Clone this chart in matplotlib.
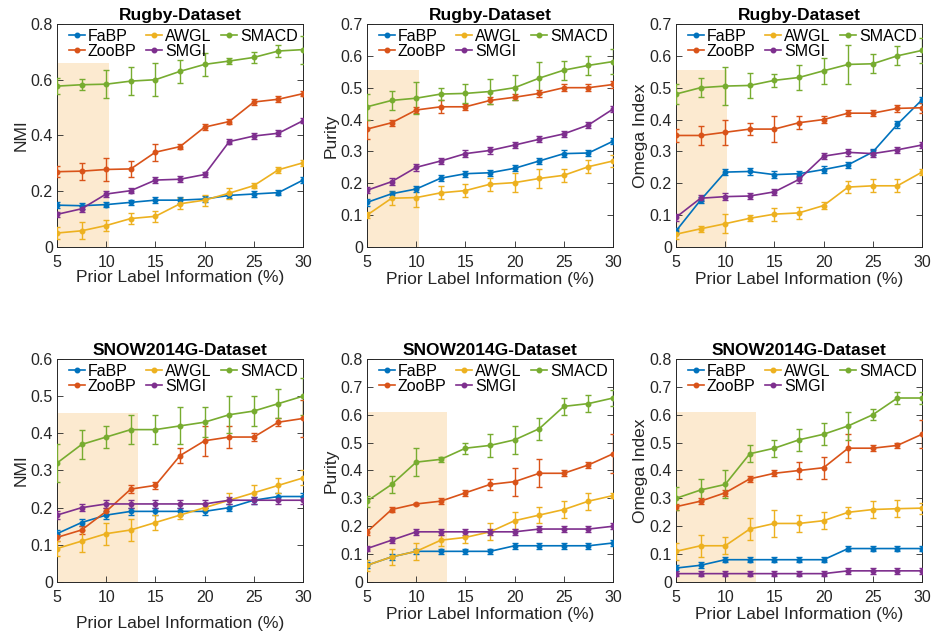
import numpy as np
import matplotlib
matplotlib.use("Agg")
import matplotlib.pyplot as plt

plt.rcParams["font.family"] = ["Liberation Sans", "DejaVu Sans"]

x = [5, 7.5, 10, 12.5, 15, 17.5, 20, 22.5, 25, 27.5, 30]
methods = ["FaBP", "ZooBP", "AWGL", "SMGI", "SMACD"]
colors = {"FaBP": "#0072BD", "ZooBP": "#D95319", "AWGL": "#EDB120",
          "SMGI": "#7E2F8E", "SMACD": "#77AC30"}

# Rugby - NMI
rugby_nmi = {
    "FaBP": [0.15, 0.148, 0.152, 0.16, 0.168, 0.168, 0.172, 0.185, 0.19, 0.195, 0.24],
    "ZooBP": [0.27, 0.272, 0.278, 0.28, 0.34, 0.36, 0.43, 0.45, 0.52, 0.53, 0.55],
    "AWGL": [0.05, 0.058, 0.077, 0.102, 0.11, 0.155, 0.168, 0.193, 0.22, 0.277, 0.302],
    "SMGI": [0.117, 0.137, 0.19, 0.202, 0.24, 0.243, 0.26, 0.378, 0.398, 0.408, 0.453],
    "SMACD": [0.577, 0.582, 0.584, 0.595, 0.6, 0.63, 0.655, 0.667, 0.68, 0.703, 0.708],
}
rugby_nmi_err = {
    "FaBP": [0.01] * 11,
    "ZooBP": [0.02, 0.03, 0.04, 0.03, 0.03, 0.01, 0.01, 0.01, 0.01, 0.01, 0.01],
    "AWGL": [0.02, 0.03, 0.02, 0.02, 0.02, 0.02, 0.02, 0.02, 0.01, 0.01, 0.01],
    "SMGI": [0.01] * 11,
    "SMACD": [0.03, 0.02, 0.05, 0.05, 0.06, 0.04, 0.04, 0.01, 0.02, 0.02, 0.05],
}

# Rugby - Purity
rugby_pur = {
    "FaBP": [0.14, 0.167, 0.182, 0.216, 0.23, 0.233, 0.247, 0.27, 0.293, 0.295, 0.332],
    "ZooBP": [0.37, 0.39, 0.43, 0.44, 0.44, 0.46, 0.47, 0.482, 0.5, 0.5, 0.51],
    "AWGL": [0.1, 0.153, 0.155, 0.17, 0.177, 0.197, 0.202, 0.215, 0.225, 0.252, 0.27],
    "SMGI": [0.178, 0.205, 0.25, 0.27, 0.293, 0.303, 0.32, 0.338, 0.355, 0.383, 0.433],
    "SMACD": [0.44, 0.46, 0.467, 0.48, 0.482, 0.488, 0.5, 0.53, 0.555, 0.57, 0.582],
}
rugby_pur_err = {
    "FaBP": [0.01] * 11,
    "ZooBP": [0.03, 0.01, 0.01, 0.02, 0.01, 0.01, 0.01, 0.01, 0.01, 0.01, 0.01],
    "AWGL": [0.01, 0.02, 0.03, 0.02, 0.02, 0.02, 0.03, 0.03, 0.02, 0.02, 0.02],
    "SMGI": [0.01] * 11,
    "SMACD": [0.04, 0.03, 0.05, 0.02, 0.03, 0.04, 0.04, 0.05, 0.03, 0.03, 0.04],
}

# Rugby - Omega Index
rugby_ome = {
    "FaBP": [0.05, 0.147, 0.235, 0.237, 0.227, 0.23, 0.243, 0.258, 0.298, 0.385, 0.462],
    "ZooBP": [0.35, 0.35, 0.36, 0.37, 0.37, 0.39, 0.4, 0.42, 0.42, 0.435, 0.437],
    "AWGL": [0.04, 0.057, 0.073, 0.09, 0.103, 0.107, 0.13, 0.188, 0.192, 0.192, 0.235],
    "SMGI": [0.093, 0.153, 0.158, 0.16, 0.173, 0.212, 0.285, 0.297, 0.293, 0.305, 0.32],
    "SMACD": [0.48, 0.5, 0.505, 0.507, 0.523, 0.532, 0.553, 0.573, 0.575, 0.6, 0.617],
}
rugby_ome_err = {
    "FaBP": [0.01] * 11,
    "ZooBP": [0.02, 0.03, 0.04, 0.02, 0.04, 0.02, 0.01, 0.01, 0.01, 0.01, 0.015],
    "AWGL": [0.015, 0.01, 0.03, 0.01, 0.02, 0.02, 0.01, 0.02, 0.02, 0.02, 0.01],
    "SMGI": [0.01] * 11,
    "SMACD": [0.03, 0.03, 0.06, 0.04, 0.02, 0.04, 0.04, 0.06, 0.03, 0.03, 0.04],
}

# SNOW2014G - NMI
snow_nmi = {
    "FaBP": [0.13, 0.16, 0.18, 0.19, 0.19, 0.19, 0.19, 0.2, 0.22, 0.23, 0.23],
    "ZooBP": [0.12, 0.14, 0.19, 0.25, 0.26, 0.34, 0.38, 0.39, 0.39, 0.43, 0.44],
    "AWGL": [0.09, 0.11, 0.13, 0.14, 0.16, 0.18, 0.2, 0.22, 0.24, 0.26, 0.28],
    "SMGI": [0.18, 0.2, 0.21, 0.21, 0.21, 0.21, 0.21, 0.22, 0.22, 0.22, 0.22],
    "SMACD": [0.32, 0.37, 0.39, 0.41, 0.41, 0.42, 0.43, 0.45, 0.46, 0.48, 0.5],
}
snow_nmi_err = {
    "FaBP": [0.01] * 11,
    "ZooBP": [0.01, 0.01, 0.01, 0.01, 0.01, 0.02, 0.04, 0.03, 0.01, 0.01, 0.05],
    "AWGL": [0.02, 0.03, 0.03, 0.03, 0.02, 0.01, 0.01, 0.02, 0.02, 0.02, 0.02],
    "SMGI": [0.01] * 11,
    "SMACD": [0.05, 0.04, 0.03, 0.04, 0.04, 0.05, 0.04, 0.05, 0.04, 0.04, 0.05],
}

# SNOW2014G - Purity
snow_pur = {
    "FaBP": [0.06, 0.09, 0.11, 0.11, 0.11, 0.11, 0.13, 0.13, 0.13, 0.13, 0.14],
    "ZooBP": [0.18, 0.26, 0.28, 0.29, 0.32, 0.35, 0.36, 0.39, 0.39, 0.42, 0.46],
    "AWGL": [0.06, 0.09, 0.11, 0.15, 0.16, 0.18, 0.22, 0.24, 0.26, 0.29, 0.31],
    "SMGI": [0.12, 0.15, 0.18, 0.18, 0.18, 0.18, 0.18, 0.19, 0.19, 0.19, 0.2],
    "SMACD": [0.29, 0.35, 0.43, 0.44, 0.48, 0.49, 0.51, 0.55, 0.63, 0.64, 0.66],
}
snow_pur_err = {
    "FaBP": [0.01] * 11,
    "ZooBP": [0.01, 0.01, 0.005, 0.01, 0.01, 0.02, 0.05, 0.05, 0.01, 0.01, 0.07],
    "AWGL": [0.02, 0.03, 0.03, 0.02, 0.02, 0.03, 0.03, 0.03, 0.03, 0.03, 0.01],
    "SMGI": [0.01] * 11,
    "SMACD": [0.02, 0.03, 0.05, 0.01, 0.02, 0.04, 0.05, 0.04, 0.03, 0.03, 0.03],
}

# SNOW2014G - Omega Index
snow_ome = {
    "FaBP": [0.05, 0.06, 0.08, 0.08, 0.08, 0.08, 0.08, 0.12, 0.12, 0.12, 0.12],
    "ZooBP": [0.27, 0.29, 0.32, 0.37, 0.39, 0.4, 0.41, 0.48, 0.48, 0.49, 0.53],
    "AWGL": [0.11, 0.13, 0.13, 0.19, 0.21, 0.21, 0.22, 0.25, 0.26, 0.263, 0.265],
    "SMGI": [0.03, 0.03, 0.03, 0.03, 0.03, 0.03, 0.03, 0.04, 0.04, 0.04, 0.04],
    "SMACD": [0.3, 0.33, 0.35, 0.46, 0.48, 0.51, 0.53, 0.56, 0.6, 0.66, 0.66],
}
snow_ome_err = {
    "FaBP": [0.01] * 11,
    "ZooBP": [0.01, 0.01, 0.01, 0.01, 0.01, 0.03, 0.04, 0.05, 0.01, 0.01, 0.05],
    "AWGL": [0.03, 0.04, 0.03, 0.04, 0.05, 0.03, 0.03, 0.02, 0.03, 0.03, 0.02],
    "SMGI": [0.01] * 11,
    "SMACD": [0.04, 0.04, 0.05, 0.03, 0.03, 0.04, 0.04, 0.05, 0.02, 0.02, 0.02],
}

# title, y label, values, errors, y max, y step, shaded box (x end, y top), xlabel pad
panels = [
    ("Rugby-Dataset", "NMI", rugby_nmi, rugby_nmi_err, 0.8, 0.2, (10.3, 0.66), 0),
    ("Rugby-Dataset", "Purity", rugby_pur, rugby_pur_err, 0.7, 0.1, (10.3, 0.557), 1),
    ("Rugby-Dataset", "Omega Index", rugby_ome, rugby_ome_err, 0.7, 0.1, (10.2, 0.557), 1),
    ("SNOW2014G-Dataset", "NMI", snow_nmi, snow_nmi_err, 0.6, 0.1, (13.2, 0.456), 8),
    ("SNOW2014G-Dataset", "Purity", snow_pur, snow_pur_err, 0.8, 0.1, (13.1, 0.61), 1),
    ("SNOW2014G-Dataset", "Omega Index", snow_ome, snow_ome_err, 0.8, 0.1, (13.1, 0.61), 1),
]

fig = plt.figure(figsize=(9.33, 6.39), dpi=100)
lefts = [0.0611, 0.3934, 0.7245]
bottoms = [0.6135, 0.0892]
W, H = 0.2637, 0.349
dark = "#262626"

for i, (title, ylab, vals, errs, ymax, ystep, shade, xpad) in enumerate(panels):
    ax = fig.add_axes([lefts[i % 3], bottoms[i // 3], W, H])
    ax.fill_between([5, shade[0]], 0, shade[1], color="#FCEAD0", lw=0, zorder=0)
    handles = {}
    for m in methods:
        c = ax.errorbar(x, vals[m], yerr=errs[m], color=colors[m], marker=".",
                        markersize=6.5, lw=1.2, elinewidth=1.0, capsize=2.2,
                        capthick=1.0, zorder=3)
        handles[m] = c[0]
    ax.set_xlim(5, 30)
    ax.set_ylim(0, ymax)
    ax.set_xticks([5, 10, 15, 20, 25, 30])
    yt = np.round(np.arange(0, ymax + 0.001, ystep), 2)
    ax.set_yticks(yt)
    ax.set_yticklabels(["%g" % t for t in yt])
    ax.tick_params(direction="in", length=4, width=0.6, labelsize=11.5,
                   colors=dark, right=True, top=False)
    ax.tick_params(axis="x", pad=6)
    ax.tick_params(axis="y", pad=3)
    for s in ax.spines.values():
        s.set_color(dark)
        s.set_linewidth(0.7)
    ax.set_title(title, fontsize=12.5, fontweight="bold", color="black", pad=3)
    ax.set_xlabel("Prior Label Information (%)", fontsize=12.5, color=dark, labelpad=xpad)
    ax.set_ylabel(ylab, fontsize=12.5, color=dark, labelpad=1)
    order = ["FaBP", "ZooBP", "AWGL", "SMGI", "SMACD"]
    ax.legend([handles[m] for m in order], order, ncol=3, loc="upper right",
              bbox_to_anchor=(1.0, 1.0), frameon=False, fontsize=11.5,
              handlelength=1.0, handletextpad=0.2, columnspacing=0.6,
              labelspacing=0.0, borderaxespad=0.1, borderpad=0.2)

fig.savefig("out.png", dpi=100)
